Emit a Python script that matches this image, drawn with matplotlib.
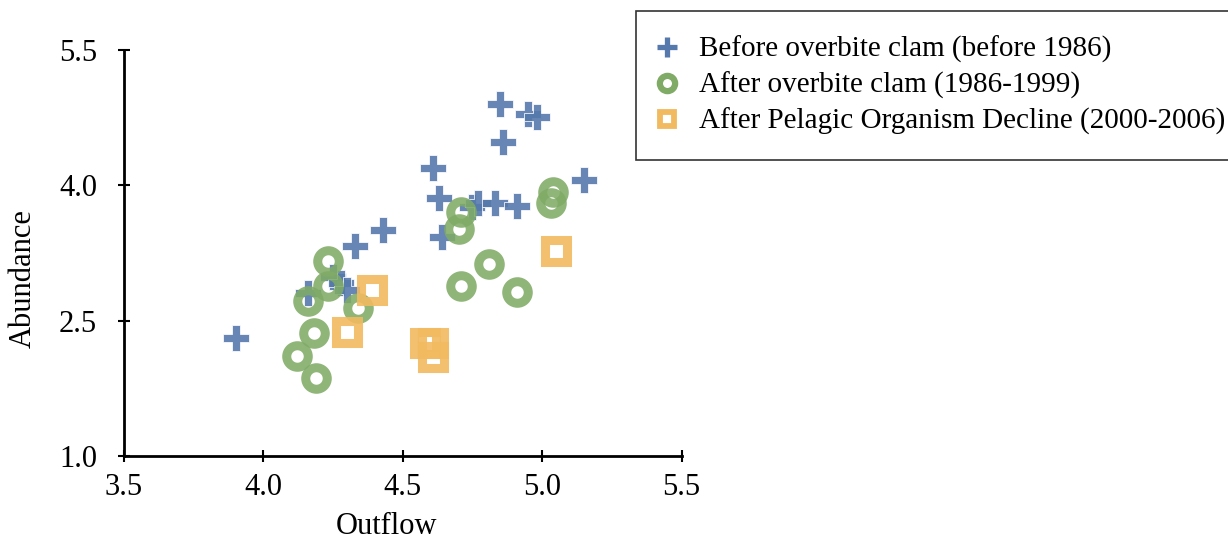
import matplotlib

matplotlib.use("Agg")
import matplotlib.pyplot as plt
from matplotlib.lines import Line2D

plt.rcParams["font.family"] = ["Liberation Serif", "DejaVu Serif"]

# Before overbite clam (before 1986)
before_x = [3.90, 4.16, 4.25, 4.28, 4.30, 4.33, 4.43, 4.61, 4.63, 4.64,
            4.75, 4.77, 4.83, 4.91, 4.85, 4.95, 4.98, 4.86, 5.15]
before_y = [2.31, 2.81, 2.99, 2.92, 2.84, 3.33, 3.50, 4.19, 3.86, 3.43,
            3.76, 3.80, 3.80, 3.77, 4.90, 4.79, 4.76, 4.48, 4.06]

# After overbite clam (1986-1999)
after_x = [4.23, 4.23, 4.16, 4.34, 4.18, 4.12, 4.19,
           4.71, 4.70, 5.04, 5.03, 4.81, 4.71, 4.91]
after_y = [3.16, 2.88, 2.72, 2.64, 2.36, 2.11, 1.86,
           3.70, 3.52, 3.93, 3.80, 3.13, 2.88, 2.82]

# After Pelagic Organism Decline (2000-2006)
pod_x = [4.39, 4.30, 4.58, 4.61, 4.61, 5.05]
pod_y = [2.84, 2.37, 2.25, 2.25, 2.10, 3.27]

labels = [
    "Before overbite clam (before 1986)",
    "After overbite clam (1986-1999)",
    "After Pelagic Organism Decline (2000-2006)",
]
colors = ["#5679ad", "#80ab66", "#f2ba60"]

fig = plt.figure(figsize=(12.28, 5.43), dpi=100)
ax = fig.add_axes([0.101, 0.160, 0.454, 0.748])

ax.plot(before_x, before_y, "P", ms=19, color=colors[0], mec="white", mew=0.6,
        alpha=0.9, zorder=3)
ax.plot(after_x, after_y, "o", ms=15.5, mfc="none", mec=colors[1], mew=6.5,
        alpha=0.88, zorder=3)
ax.plot(pod_x, pod_y, "s", ms=15.5, mfc="none", mec=colors[2], mew=6.5,
        alpha=0.9, zorder=3)

ax.set_xlim(3.5, 5.5)
ax.set_ylim(1.0, 5.5)
ax.set_xticks([3.5, 4.0, 4.5, 5.0, 5.5])
ax.set_yticks([1.0, 2.5, 4.0, 5.5])
ax.xaxis.set_major_formatter("{x:.1f}")
ax.yaxis.set_major_formatter("{x:.1f}")
ax.spines["top"].set_visible(False)
ax.spines["right"].set_visible(False)
for side in ["left", "bottom"]:
    ax.spines[side].set_linewidth(2)
ax.tick_params(direction="inout", length=9, width=1.5, labelsize=22)
ax.tick_params(axis="x", pad=8)
ax.tick_params(axis="y", pad=15)
ax.set_xlabel("Outflow", fontsize=22)
ax.set_ylabel("Abundance", fontsize=22)
ax.xaxis.set_label_coords(0.470, -0.138)
ax.yaxis.set_label_coords(-0.155, 0.438)

handles = [
    Line2D([], [], ls="none", marker="+", ms=15, mew=3.8, color=colors[0]),
    Line2D([], [], ls="none", marker="o", ms=11, mfc="none", mec=colors[1], mew=4.5),
    Line2D([], [], ls="none", marker="s", ms=10, mfc="none", mec=colors[2], mew=4.2),
]
leg = fig.legend(
    handles,
    labels,
    loc="upper left",
    bbox_to_anchor=(636 / 1228, 1 - 11 / 543),
    borderaxespad=0,
    fontsize=21,
    frameon=True,
    fancybox=False,
    handletextpad=0.9,
    handlelength=0.4,
    borderpad=0.85,
    labelspacing=0.3,
)
leg.get_frame().set_edgecolor("black")
leg.get_frame().set_linewidth(1.2)

fig.savefig("out.png", dpi=100)
